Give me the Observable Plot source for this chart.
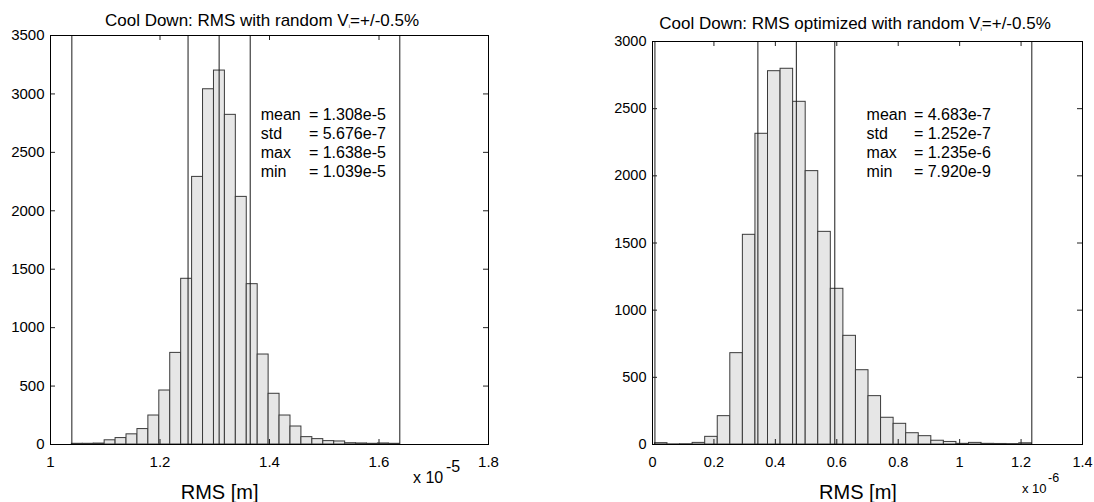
<!DOCTYPE html>
<html><head><meta charset="utf-8">
<script src="https://cdn.jsdelivr.net/npm/d3@7"></script>
<script src="https://cdn.jsdelivr.net/npm/@observablehq/plot@0.6"></script>
<style>
body{margin:0;background:#fff;font-family:"Liberation Sans",Arial,Helvetica,sans-serif;}
#wrap{position:relative;width:1094px;height:502px;overflow:hidden;background:#fff;}
.abs{position:absolute;white-space:nowrap;color:#000;line-height:1;}
.plotbox{position:absolute;top:0;}
</style></head><body><div id="wrap"></div>
<script>
// ---------- data (left: units of 1e-5 m, right: units of 1e-6 m) ----------
const leftCounts = [6, 6, 8, 36, 55, 87, 132, 248, 462, 784, 1418, 2290, 3040, 3200, 2821,
                    2119, 1372, 770, 434, 248, 154, 63, 46, 29, 26, 11, 9, 6, 9, 6];
const rightCounts = [10, 1, 2, 12, 57, 211, 680, 1561, 2313, 2779, 2797, 2551, 2035, 1583, 1159,
                     809, 553, 360, 199, 154, 84, 62, 28, 19, 5, 12, 5, 4, 3, 9];
const statNames = ["mean", "std", "max", "min"];
const leftStatValues = [1.308e-5, 5.676e-7, 1.638e-5, 1.039e-5];
const leftStatText = ["1.308e-5", "5.676e-7", "1.638e-5", "1.039e-5"];
const rightStatValues = [4.683e-7, 1.252e-7, 1.235e-6, 7.920e-9];
const rightStatText = ["4.683e-7", "1.252e-7", "1.235e-6", "7.920e-9"];
const leftXTicks = [1, 1.2, 1.4, 1.6, 1.8];
const leftYTicks = [0, 500, 1000, 1500, 2000, 2500, 3000, 3500];
const rightXTicks = [0, 0.2, 0.4, 0.6, 0.8, 1, 1.2, 1.4];
const rightYTicks = [0, 500, 1000, 1500, 2000, 2500, 3000];

function histChart({counts, statValues, statText, unit, xTicks, yTicks, xDomain, yDomain,
                    width, marginLeft, marginRight, marginTop, marginBottom, textX, textEqX, textY, tickFont}) {
  const [mean, std, max, min] = statValues.map(v => v / unit);
  const n = counts.length;
  const bw = (max - min) / n;
  const bins = counts.map((c, i) => ({x1: min + i * bw, x2: min + (i + 1) * bw, y: c}));
  const height = 502;
  const pw = width - marginLeft - marginRight, ph = height - marginTop - marginBottom;
  const tlx = 5 / pw * (xDomain[1] - xDomain[0]);
  const tly = 5 / ph * (yDomain[1] - yDomain[0]);
  const fmtX = d => String(+d.toFixed(1));
  return Plot.plot({
    width, height, marginLeft, marginRight, marginTop, marginBottom,
    style: {fontFamily: '"Liberation Sans", Arial, Helvetica, sans-serif', background: "#fff", color: "#000"},
    x: {domain: xDomain, axis: null},
    y: {domain: yDomain, axis: null},
    marks: [
      Plot.rectY(bins, {x1: "x1", x2: "x2", y: "y", fill: "#e6e6e6", stroke: "#3a3a3a", strokeWidth: 1}),
      Plot.ruleX([min, mean - std, mean, mean + std, max], {stroke: "#1a1a1a", strokeWidth: 1}),
      // inward ticks, MATLAB style, all four sides
      Plot.ruleX(xTicks, {x: d => d, y1: yDomain[0], y2: yDomain[0] + tly, stroke: "#222"}),
      Plot.ruleX(xTicks, {x: d => d, y1: yDomain[1] - tly, y2: yDomain[1], stroke: "#222"}),
      Plot.ruleY(yTicks, {y: d => d, x1: xDomain[0], x2: xDomain[0] + tlx, stroke: "#222"}),
      Plot.ruleY(yTicks, {y: d => d, x1: xDomain[1] - tlx, x2: xDomain[1], stroke: "#222"}),
      Plot.frame({stroke: "#000", strokeWidth: 1}),
      Plot.axisX(xTicks, {anchor: "bottom", tickSize: 0, tickPadding: 12, tickFormat: fmtX, fontSize: tickFont, label: null}),
      Plot.axisY(yTicks, {anchor: "left", tickSize: 0, tickPadding: 6, tickFormat: d3.format("d"), fontSize: tickFont, label: null}),
      Plot.text([statNames.join("\n")], {x: textX, y: textY, text: d => d, textAnchor: "start", lineAnchor: "top", lineHeight: 1.19, fontSize: 16, fill: "#000"}),
      Plot.text([statText.map(s => "= " + s).join("\n")], {x: textEqX, y: textY, text: d => d, textAnchor: "start", lineAnchor: "top", lineHeight: 1.19, fontSize: 16, fill: "#000"})
    ]
  });
}

const wrap = document.getElementById("wrap");
function place(el, left) {
  const d = document.createElement("div");
  d.className = "plotbox";
  d.style.left = left + "px";
  d.appendChild(el);
  wrap.appendChild(d);
}
function label(html, x, y, size, anchor) {
  const d = document.createElement("div");
  d.className = "abs";
  d.innerHTML = html;
  d.style.left = x + "px";
  d.style.top = y + "px";
  d.style.fontSize = size + "px";
  d.style.transform = anchor === "center" ? "translate(-50%,-50%)" : "translate(0,-50%)";
  wrap.appendChild(d);
}

place(histChart({
  counts: leftCounts, statValues: leftStatValues, statText: leftStatText, unit: 1e-5,
  xTicks: leftXTicks, yTicks: leftYTicks, xDomain: [1, 1.8], yDomain: [0, 3500],
  width: 500, marginLeft: 50, marginRight: 12, marginTop: 35, marginBottom: 58,
  textX: 1.384, textEqX: 1.472, textY: 2890, tickFont: 15
}), 0);

place(histChart({
  counts: rightCounts, statValues: rightStatValues, statText: rightStatText, unit: 1e-6,
  xTicks: rightXTicks, yTicks: rightYTicks, xDomain: [0, 1.4], yDomain: [0, 3000],
  width: 534, marginLeft: 92, marginRight: 12, marginTop: 41, marginBottom: 58,
  textX: 0.697, textEqX: 0.851, textY: 2515, tickFont: 14.5
}), 560);

const sub = '<sub style="font-size:6px;vertical-align:-2px">i</sub>';
label("Cool Down: RMS with random V" + sub + "=+/-0.5%", 262, 19.5, 17, "center");
label("Cool Down: RMS optimized with random V" + sub + "=+/-0.5%", 855, 23, 17, "center");
label("RMS [m]", 219.6, 492, 20, "center");
label("RMS [m]", 858, 492, 20, "center");
label("x 10", 413, 478, 16, "left");
label("-5", 446, 467, 16, "left");
label("x 10", 1022, 488, 13, "left");
label("-6", 1048, 478, 12.5, "left");
</script>
</body></html>
